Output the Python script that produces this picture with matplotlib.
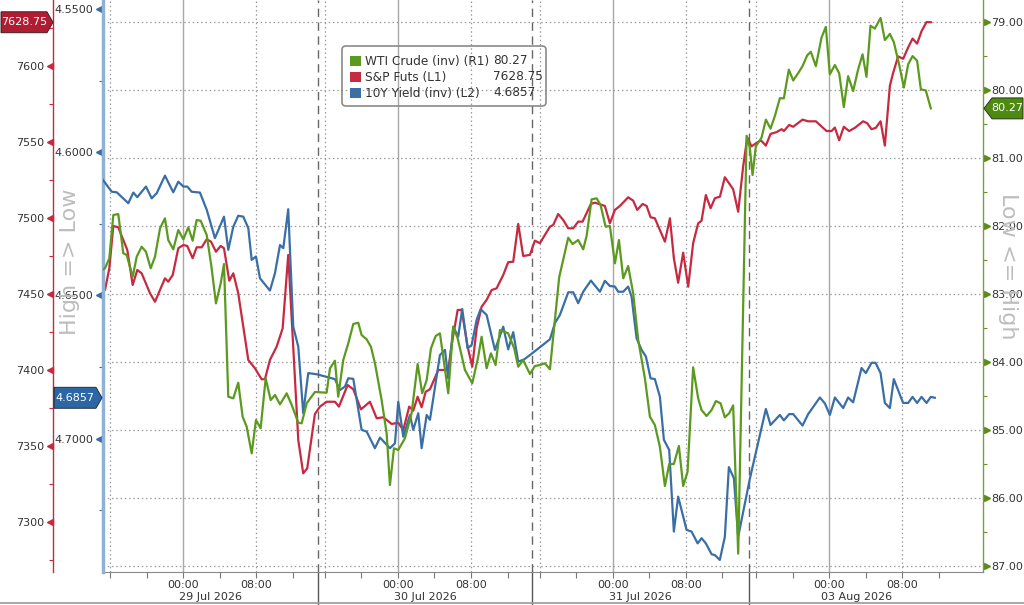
import matplotlib
matplotlib.use("Agg")
import matplotlib.pyplot as plt
from matplotlib import transforms
from matplotlib.patches import Polygon, FancyBboxPatch, Rectangle
from matplotlib.lines import Line2D
from matplotlib.ticker import MultipleLocator

# ---- data (x = plot hours from the left edge, sessions laid end to end) ----
wti_hours = [0, 0.22, 0.69, 1.13, 1.67, 2.22, 2.59, 3.25, 3.69, 4.23,
             4.7, 5.22, 5.69, 6.24, 6.78, 7.14, 7.69, 8.24, 8.79, 9.33,
             9.81, 10.25, 10.69, 11.35, 11.89, 12.36, 12.88, 13.24, 13.71, 14.26,
             14.8, 15.28, 15.72, 16.27, 16.74, 17.25, 17.8, 18.35, 18.82, 19.37,
             20.1, 20.65, 21.37, 21.74, 22.29, 23.19, 24.47, 24.84, 25.38, 25.74,
             26.29, 26.84, 27.39, 27.93, 28.3, 28.85, 29.32, 29.76, 30.49, 31.04,
             31.4, 31.84, 32.31, 33.04, 33.77, 34.43, 34.93, 35.42, 35.89, 36.4,
             36.87, 37.23, 37.78, 38.33, 38.81, 39.61, 40.41, 41.06, 41.43, 41.98,
             42.45, 42.96, 43.44, 44.34, 45.0, 45.44, 45.98, 46.72, 47.26, 47.81,
             48.36, 48.91, 49.92, 50.91, 51.39, 52.0, 52.55, 52.92, 53.47, 54.02,
             54.45, 55.0, 55.47, 56.02, 56.46, 56.93, 57.47, 58.02, 58.57, 59.3,
             59.85, 60.39, 60.94, 61.49, 61.96, 62.47, 63.02, 63.49, 63.97, 64.58,
             65.13, 65.5, 66.05, 66.6, 67.07, 67.58, 68.05, 68.52, 68.96, 69.51,
             70.43, 70.79, 71.08, 71.44, 72.07, 72.54, 73.05, 73.52, 74.07, 74.51,
             75.05, 75.53, 76.07, 76.55, 77.06, 77.46, 78.01, 78.63, 79.1, 79.54,
             80.09, 80.56, 81.07, 81.54, 82.09, 82.63, 83.12, 83.55, 83.99, 84.46,
             85.09, 85.56, 86.11, 86.54, 87.12, 87.64, 88.11, 88.59, 89.09, 89.5,
             90.04, 90.59]
wti_vals = [82.640, 82.622, 82.475, 81.838, 81.824, 82.401, 82.426, 82.746, 82.451, 82.304,
            82.378, 82.622, 82.451, 82.034, 81.887, 82.206, 82.343, 82.059, 82.196, 82.019,
            82.216, 81.912, 81.922, 82.132, 82.622, 83.137, 82.843, 82.559, 84.510, 84.534,
            84.304, 84.804, 84.951, 85.343, 84.853, 84.975, 84.240, 84.559, 84.485, 84.622,
            84.460, 84.632, 84.893, 84.901, 84.607, 84.441, 84.451, 84.093, 83.981, 84.510,
            83.971, 83.725, 83.441, 83.422, 83.603, 83.666, 83.775, 84.019, 84.559, 85.049,
            85.809, 85.269, 85.294, 85.122, 84.754, 84.029, 84.460, 84.265, 83.799, 83.618,
            83.578, 83.922, 84.460, 83.481, 83.651, 84.118, 84.313, 83.922, 83.628, 84.093,
            83.872, 84.044, 83.529, 83.578, 83.799, 84.069, 83.971, 84.176, 84.059, 84.044,
            84.019, 84.107, 82.754, 82.172, 82.265, 82.206, 82.343, 82.147, 81.607, 81.593,
            81.691, 82.010, 82.000, 82.549, 82.206, 82.769, 82.588, 82.990, 83.676, 84.240,
            84.804, 84.926, 85.246, 85.824, 85.500, 85.500, 85.235, 85.824, 85.613, 84.078,
            84.534, 84.706, 84.794, 84.706, 84.574, 84.607, 84.813, 84.754, 84.638, 86.818,
            80.672, 80.853, 81.250, 80.829, 80.699, 80.435, 80.568, 80.384, 80.121, 80.121,
            79.700, 79.859, 79.753, 79.649, 79.491, 79.438, 79.649, 79.228, 79.071, 79.769,
            79.632, 79.753, 80.251, 79.796, 80.016, 79.700, 79.475, 79.806, 79.054, 79.097,
            78.940, 79.265, 79.175, 79.296, 79.622, 79.963, 79.622, 79.501, 79.569, 79.990,
            80.006, 80.27]

spx_hours = [0, 0.22, 0.69, 1.13, 1.67, 2.22, 2.66, 3.25, 3.75, 4.23,
             5.14, 5.69, 6.24, 6.78, 7.14, 7.63, 8.24, 8.79, 9.22, 9.81,
             10.25, 10.8, 11.35, 11.82, 12.36, 12.88, 13.24, 13.82, 14.26, 14.8,
             15.9, 16.63, 17.36, 17.72, 18.27, 19.0, 19.66, 20.27, 20.82, 21.37,
             21.91, 22.35, 23.19, 23.74, 24.47, 25.38, 25.82, 26.77, 27.39, 28.23,
             29.21, 29.95, 30.67, 31.59, 32.31, 32.86, 33.51, 33.95, 34.43, 34.87,
             35.31, 35.78, 36.69, 37.78, 38.15, 38.81, 39.25, 39.9, 40.41, 40.89,
             41.43, 41.98, 42.53, 43.07, 43.8, 44.34, 44.89, 45.44, 45.98, 46.72,
             47.26, 47.81, 48.91, 49.27, 49.81, 50.36, 50.91, 51.46, 52.0, 52.48,
             53.39, 53.83, 54.92, 55.47, 56.02, 56.56, 57.47, 58.02, 58.46, 59.05,
             59.49, 59.92, 60.39, 60.94, 61.49, 62.04, 62.47, 62.94, 63.49, 64.04,
             64.58, 65.13, 65.5, 65.97, 66.49, 66.96, 67.51, 68.05, 68.96, 69.51,
             70.05, 70.5, 70.97, 71.52, 71.99, 72.54, 73.05, 73.71, 74.26, 74.51,
             75.09, 75.53, 76.55, 77.17, 78.01, 79.18, 79.73, 80.09, 80.56, 81.07,
             81.65, 82.28, 83.18, 83.62, 84.1, 84.57, 85.09, 85.56, 86.11, 86.46,
             87.01, 87.56, 88.11, 88.59, 89.09, 89.57, 90.12, 90.59]
spx_vals = [7454.6, 7452.6, 7466.9, 7494.7, 7493.9, 7485.5, 7478.9, 7455.9, 7465.8, 7463.6,
            7450.5, 7444.9, 7452.6, 7460.3, 7458.1, 7462.5, 7480.1, 7482.2, 7481.6, 7473.5,
            7480.7, 7480.7, 7486.0, 7484.4, 7477.8, 7481.6, 7480.1, 7458.7, 7463.6, 7450.5,
            7406.6, 7401.1, 7393.9, 7393.9, 7406.6, 7415.3, 7427.4, 7475.7, 7415.3, 7353.9,
            7332.0, 7335.3, 7371.0, 7375.9, 7379.1, 7379.1, 7375.9, 7390.1, 7387.3, 7374.1,
            7379.1, 7368.2, 7368.9, 7364.5, 7365.3, 7360.5, 7375.9, 7373.2, 7382.4, 7375.5,
            7385.7, 7387.3, 7400.0, 7400.0, 7416.4, 7439.5, 7439.5, 7415.3, 7402.2, 7427.4,
            7441.6, 7446.1, 7452.6, 7453.7, 7462.5, 7470.9, 7471.2, 7496.1, 7475.0, 7475.7,
            7485.1, 7483.4, 7494.3, 7495.4, 7502.6, 7498.7, 7493.2, 7493.2, 7497.6, 7497.6,
            7509.2, 7510.1, 7507.9, 7496.5, 7505.3, 7507.9, 7513.6, 7511.4, 7505.3, 7509.2,
            7507.9, 7500.5, 7499.8, 7492.1, 7484.4, 7499.8, 7473.5, 7457.4, 7477.2, 7454.8,
            7483.4, 7496.5, 7498.2, 7515.1, 7506.4, 7513.0, 7514.0, 7526.8, 7518.9, 7504.1,
            7533.7, 7553.0, 7547.1, 7549.4, 7551.1, 7547.6, 7555.3, 7556.5, 7558.4, 7557.2,
            7561.2, 7560.0, 7564.7, 7563.6, 7563.6, 7557.2, 7557.2, 7559.5, 7551.1, 7560.0,
            7557.2, 7559.3, 7563.6, 7562.4, 7558.4, 7559.3, 7563.6, 7547.6, 7587.0, 7595.3,
            7606.3, 7604.7, 7612.2, 7618.0, 7614.7, 7622.8, 7628.9, 7628.75]

ust_hours = [0, 0.95, 1.5, 2.77, 3.32, 3.75, 4.7, 5.33, 5.88, 6.78,
             7.69, 8.24, 8.79, 9.22, 9.7, 10.61, 11.35, 12.25, 13.24, 13.71,
             14.26, 14.8, 15.35, 15.9, 16.27, 16.74, 17.18, 18.27, 18.82, 19.37,
             19.73, 20.27, 20.82, 21.37, 21.91, 22.46, 23.4, 25.38, 25.93, 26.48,
             26.84, 27.39, 28.3, 28.85, 29.76, 30.31, 31.4, 31.95, 32.31, 32.86,
             33.59, 33.95, 34.5, 34.87, 35.42, 35.78, 36.87, 37.42, 37.78, 38.33,
             38.87, 39.31, 39.9, 40.34, 40.89, 41.32, 41.98, 42.89, 43.8, 44.34,
             44.89, 45.44, 46.09, 46.72, 48.91, 49.45, 50.0, 50.91, 51.46, 52.0,
             52.55, 53.39, 54.38, 54.92, 55.47, 56.02, 56.38, 56.93, 57.47, 57.84,
             58.39, 58.94, 59.41, 59.92, 60.39, 60.94, 61.38, 61.96, 62.47, 62.94,
             63.86, 64.41, 65.07, 65.5, 65.97, 66.6, 66.96, 67.5, 68.05, 68.49,
             69.04, 69.51, 70.79, 72.54, 73.05, 74.07, 74.51, 75.09, 75.53, 76.55,
             77.17, 78.45, 79.0, 79.54, 80.09, 81.0, 81.54, 82.09, 83.01, 83.48,
             84.1, 84.54, 85.09, 85.56, 86.11, 86.54, 87.56, 88.11, 88.59, 89.09,
             89.57, 90.12, 90.59, 91.03]
ust_vals = [4.6097, 4.6138, 4.6140, 4.6178, 4.6141, 4.6157, 4.6120, 4.6161, 4.6143, 4.6082,
            4.6140, 4.6103, 4.6120, 4.6120, 4.6138, 4.6141, 4.6201, 4.6300, 4.6225, 4.6341,
            4.6260, 4.6222, 4.6225, 4.6265, 4.6376, 4.6364, 4.6440, 4.6483, 4.6422, 4.6324,
            4.6335, 4.6199, 4.6609, 4.6679, 4.6911, 4.6771, 4.6775, 4.6792, 4.6830, 4.6818,
            4.6789, 4.6791, 4.6969, 4.6975, 4.7033, 4.6996, 4.7033, 4.7016, 4.6871, 4.6993,
            4.6917, 4.6969, 4.6911, 4.7033, 4.6917, 4.6934, 4.6708, 4.6690, 4.6789, 4.6609,
            4.6644, 4.6547, 4.6684, 4.6673, 4.6585, 4.6548, 4.6568, 4.6690, 4.6609, 4.6688,
            4.6628, 4.6731, 4.6723, 4.6708, 4.6653, 4.6597, 4.6568, 4.6489, 4.6489, 4.6527,
            4.6487, 4.6448, 4.6487, 4.6449, 4.6467, 4.6469, 4.6487, 4.6487, 4.6469, 4.6504,
            4.6649, 4.6690, 4.6713, 4.6789, 4.6792, 4.6853, 4.7004, 4.7039, 4.7324, 4.7202,
            4.7318, 4.7324, 4.7365, 4.7347, 4.7365, 4.7403, 4.7406, 4.7423, 4.7342, 4.7099,
            4.7138, 4.7342, 4.7139, 4.6896, 4.6952, 4.6917, 4.6936, 4.6914, 4.6914, 4.6954,
            4.6914, 4.6856, 4.6877, 4.6917, 4.6856, 4.6893, 4.6856, 4.6873, 4.6753, 4.6771,
            4.6735, 4.6735, 4.6771, 4.6875, 4.6893, 4.6792, 4.6875, 4.6875, 4.6854, 4.6875,
            4.6854, 4.6875, 4.6854, 4.6857]

session_dates = ['29 Jul 2026', '30 Jul 2026', '31 Jul 2026', '03 Aug 2026']
session_start = [0.0, 23.5, 47.0, 70.7]
session_len = 23.5
session_open = 15.23          # clock hour (prior day) at session start
clock_ticks = [16, 20, 24, 28, 32, 36]
clock_labels = {24: '00:00', 32: '08:00'}
clock_grid = [16, 24, 32]

legend_names = ['WTI Crude (inv) (R1)', 'S&P Futs (L1)', '10Y Yield (inv) (L2)']
legend_last = ['80.27', '7628.75', '4.6857']

GREEN = '#5b9a1f'
RED = '#c62a40'
BLUE = '#3a6fa6'
TXT = '#333333'

W, H = 1024, 605
fig = plt.figure(figsize=(W / 100, H / 100), dpi=100)
fig.patch.set_facecolor('white')
px_l, px_r, px_t, px_b = 103, 983, 0, 572
ax_r = fig.add_axes([px_l / W, 1 - px_b / H, (px_r - px_l) / W, (px_b - px_t) / H])
ax_b = ax_r.twinx()
ax_g = ax_r.twinx()

ax_r.set_xlim(0, 96.3)
ax_r.set_ylim(7267.1, 7643.4)
ax_b.set_ylim(4.7465, 4.5469)
ax_g.set_ylim(87.088, 78.676)

for a in (ax_r, ax_b, ax_g):
    for s in a.spines.values():
        s.set_visible(False)
ax_r.spines['left'].set_visible(True)
ax_r.spines['left'].set_position(('outward', 36))   # points -> 50 px
ax_r.spines['left'].set_color(RED)
ax_r.spines['left'].set_linewidth(1)
ax_r.spines['bottom'].set_visible(True)
ax_r.spines['bottom'].set_color('#8a8a8a')
ax_b.spines['left'].set_visible(True)
ax_b.spines['left'].set_color('#8fb1d4')
ax_b.spines['left'].set_linewidth(2.5)
ax_g.spines['right'].set_visible(True)
ax_g.spines['right'].set_color('#7d9d40')
ax_g.spines['right'].set_linewidth(1)

ax_b.yaxis.set_ticks_position('left')

# y axes ticks
ax_r.yaxis.set_major_locator(MultipleLocator(50))
ax_r.yaxis.set_minor_locator(MultipleLocator(25))
ax_b.yaxis.set_major_locator(MultipleLocator(0.05))
ax_b.yaxis.set_minor_locator(MultipleLocator(0.025))
ax_g.yaxis.set_major_locator(MultipleLocator(1))
ax_g.yaxis.set_minor_locator(MultipleLocator(0.5))
ax_r.yaxis.set_major_formatter(plt.FuncFormatter(lambda v, p: f'{v:.0f}'))
ax_b.yaxis.set_major_formatter(plt.FuncFormatter(lambda v, p: f'{v:.4f}'))
ax_g.yaxis.set_major_formatter(plt.FuncFormatter(lambda v, p: f'{v:.2f}'))

ax_r.tick_params(axis='y', which='major', length=0, pad=6.5, labelsize=8, labelcolor=TXT)
ax_r.tick_params(axis='y', which='minor', length=3, color=RED, width=0.8)
ax_b.tick_params(axis='y', which='major', length=0, pad=7, labelsize=8, labelcolor=TXT)
ax_b.tick_params(axis='y', which='minor', length=3, color=BLUE, width=0.8)
ax_g.tick_params(axis='y', which='major', length=0, pad=6, labelsize=8, labelcolor=TXT)
ax_g.tick_params(axis='y', which='minor', length=3, color='#6a8f2a', width=0.8)


def tick_triangles(ax, ax_x, dx_px, marker, color):
    lo, hi = sorted(ax.get_ylim())
    vals = [v for v in ax.get_yticks() if lo <= v <= hi]
    tr = transforms.blended_transform_factory(ax.transAxes, ax.transData) + \
        transforms.ScaledTranslation(dx_px / 100, 0, fig.dpi_scale_trans)
    ax.plot([ax_x] * len(vals), vals, linestyle='none', marker=marker, markersize=4.5,
            color=color, transform=tr, clip_on=False)
    return vals


tick_triangles(ax_r, 0, -53, '<', RED)
tick_triangles(ax_b, 0, -4.5, '<', BLUE)
g_vals = tick_triangles(ax_g, 1, 4, '>', '#5e8a1c')

# x axis: session clock ticks
major_x, major_lbl, minor_x = [], [], []
grid_dot, grid_solid = [], []
for start in session_start:
    for clock in clock_ticks:
        off = clock - session_open
        if off > session_len:
            continue
        h = start + off
        if clock in clock_labels:
            major_x.append(h)
            major_lbl.append(clock_labels[clock])
        else:
            minor_x.append(h)
        if clock in clock_grid:
            (grid_solid if clock == 24 else grid_dot).append(h)

ax_r.set_xticks(major_x)
ax_r.set_xticklabels(major_lbl)
ax_r.set_xticks(minor_x, minor=True)
ax_r.tick_params(axis='x', which='both', length=4, color='#777777', width=0.8,
                 labelsize=8, labelcolor=TXT, pad=1.5)

# grid
for h in grid_dot:
    ax_r.axvline(h, color='#9a9a9a', lw=0.9, linestyle=(0, (1.2, 2.2)), zorder=0.5)
for h in grid_solid:
    ax_r.axvline(h, color='#a8a8a8', lw=1.0, zorder=0.5)
for start in session_start[1:]:
    ax_r.axvline(start, color='#666666', lw=1.0, linestyle=(0, (6, 4)), zorder=0.6)
tr_hg = transforms.blended_transform_factory(ax_r.transAxes, ax_g.transData)
for v in g_vals:
    ax_r.add_line(Line2D([0, 1], [v, v], transform=tr_hg, color='#9a9a9a', lw=0.9,
                         linestyle=(0, (1.2, 2.2)), zorder=0.5))

# date labels and separators under the axis
tr_x = transforms.blended_transform_factory(ax_r.transData, ax_r.transAxes)
bounds = session_start[1:] + [session_start[-1] + session_len]
for start, end, label in zip(session_start, bounds, session_dates):
    ax_r.text((start + end) / 2, -25 / 572, label, transform=tr_x, ha='center', va='center',
              fontsize=8, color=TXT, clip_on=False)
for start in session_start[1:]:
    ax_r.plot([start, start], [0, -33 / 572], transform=tr_x, color='#555555', lw=1,
              clip_on=False)
fig.add_artist(Line2D([0, 1], [0.004, 0.004], color='#9a9a9a', lw=1.2))

# series
ax_r.plot(spx_hours, spx_vals, color=RED, lw=1.6, zorder=3)
ax_b.plot(ust_hours, ust_vals, color=BLUE, lw=1.6, zorder=3)
ax_g.plot(wti_hours, wti_vals, color=GREEN, lw=1.6, zorder=3)

# side captions
fig.text(70 / W, 1 - 262 / H, 'High => Low', rotation=90, ha='center', va='center',
         fontsize=16, color='#bdbdbd', zorder=0)
fig.text(1008 / W, 1 - 266 / H, 'Low <= High', rotation=270, ha='center', va='center',
         fontsize=16, color='#bdbdbd', zorder=0)

ident = transforms.IdentityTransform()


def value_tag(ax, value, text, color, x0, x1, tip):
    y = ax.transData.transform((0, value))[1]
    hh = 10.5
    if tip == 'right':
        pts = [(x0, y - hh), (x1 - 6, y - hh), (x1, y), (x1 - 6, y + hh), (x0, y + hh)]
        cx = (x0 + x1 - 6) / 2
    else:
        pts = [(x0, y), (x0 + 8, y - hh), (x1, y - hh), (x1, y + hh), (x0 + 8, y + hh)]
        cx = (x0 + 8 + x1) / 2
    fig.add_artist(Polygon(pts, closed=True, transform=ident, facecolor=color,
                           edgecolor='#1e1e1e', lw=0.6))
    fig.text(cx, y, text, transform=ident, ha='center', va='center', fontsize=8,
             color='white')


value_tag(ax_r, spx_vals[-1], legend_last[1], '#b01c31', 1, 53, 'right')
value_tag(ax_b, ust_vals[-1], legend_last[2], '#2d66a5', 54, 102, 'right')
value_tag(ax_g, wti_vals[-1], legend_last[0], '#4d8a12', 984, 1023, 'left')

# legend box
fig.add_artist(FancyBboxPatch((342, H - 106), 204, 60, boxstyle='round,pad=0,rounding_size=4',
                              transform=ident, facecolor='none', edgecolor='#8a8a8a', lw=1.2))
for i, (name, last, col) in enumerate(zip(legend_names, legend_last, [GREEN, RED, BLUE])):
    y = H - (61 + i * 16)
    fig.add_artist(Rectangle((350, y - 5), 11, 10, transform=ident, facecolor=col,
                             edgecolor='none'))
    fig.text(365, y, name, transform=ident, ha='left', va='center', fontsize=8.7, color=TXT)
    fig.text(493, y, last, transform=ident, ha='left', va='center', fontsize=8.7, color=TXT)

fig.savefig('out.png', dpi=100, facecolor='white')
